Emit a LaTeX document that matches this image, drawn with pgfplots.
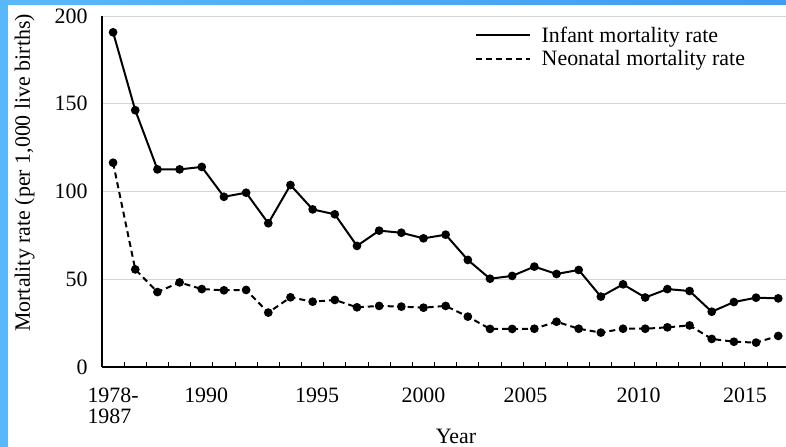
\documentclass[border=0pt]{standalone}
\usepackage{fontspec}
\setmainfont{Liberation Serif}
\usepackage{pgfplots}
\pgfplotsset{compat=1.18}
\definecolor{bluel}{HTML}{5AB8FA}
\definecolor{blued}{HTML}{3F9CF0}
\definecolor{gridc}{HTML}{D4D4D4}
\begin{document}
\begin{tikzpicture}
\fill[white] (0,0) rectangle (786bp,447bp);
\fill[bluel] (0,0) rectangle (8bp,447bp);
\shade[left color=bluel, right color=blued] (0,442bp) rectangle (786bp,447bp);
\begin{axis}[
  at={(102bp,80bp)}, anchor=south west,
  scale only axis, width=684bp, height=351bp,
  xmin=-0.5, xmax=30.35, ymin=0, ymax=200,
  font=\fontsize{22}{21}\selectfont,
  /pgf/number format/assume math mode=true,
  axis lines*=left,
  axis line style={black, line width=1.3bp},
  ytick={0,50,100,150,200},
  ymajorgrids, major grid style={gridc, line width=0.9bp},
  ytick style={draw=none},
  yticklabel style={xshift=-11bp},
  xtick={0.5,1.5,...,29.5},
  xticklabels={},
  xtick style={black, line width=1bp},
  tick align=inside,
  major tick length=5bp,
  extra x ticks={0,4.2,9.2,14,18.6,23.7,28.5},
  extra x tick labels={{1978-\\1987},1990,1995,2000,2005,2010,2015},
  extra x tick style={major tick length=0pt, grid=none,
     tick label style={align=left, yshift=-17bp, font=\fontsize{22}{21}\selectfont}},
  xlabel={Year},
  xlabel style={at={(axis description cs:0.5175,-0.198)}, anchor=center, inner sep=0pt},
  ylabel={Mortality rate (per 1,000 live births)},
  ylabel style={at={(axis description cs:-0.113,0.553)}, anchor=center},
  legend style={draw=none, fill=none, at={(axis description cs:0.549,0.981)}, anchor=north west,
     row sep=3bp, font=\fontsize{22}{22}\selectfont},
  legend cell align=left,
  legend image code/.code={\draw[#1, mark=none, overlay] (-6bp,0bp) -- (48bp,0bp); \path (0bp,0bp) (57bp,0bp);},
  clip=false,
]
\addplot[black, line width=2bp, mark=*, mark size=3.3bp] coordinates {
(0,190.7) (1,146.3) (2,112.6) (3,112.6) (4,114) (5,97) (6,99.3) (7,81.9) (8,103.7) (9,89.8)
(10,87) (11,69) (12,77.7) (13,76.5) (14,73.3) (15,75.4) (16,61) (17,50.3) (18,51.9) (19,57.2)
(20,53) (21,55.3) (22,40.1) (23,47.1) (24,39.6) (25,44.4) (26,43.3) (27,31.5) (28,37) (29,39.5) (30,39.1)
};
\addlegendentry{Infant mortality rate}
\addplot[black, line width=2bp, dash pattern=on 6bp off 4bp, mark=*, mark size=3.3bp, mark options={solid}] coordinates {
(0,116.4) (1,55.6) (2,42.7) (3,48.2) (4,44.4) (5,43.7) (6,43.9) (7,31) (8,39.7) (9,37.2)
(10,38.2) (11,34) (12,34.8) (13,34.4) (14,33.8) (15,34.8) (16,28.7) (17,21.7) (18,21.7) (19,21.8)
(20,25.8) (21,21.8) (22,19.6) (23,21.8) (24,21.8) (25,22.6) (26,23.7) (27,16) (28,14.4) (29,13.9) (30,17.7)
};
\addlegendentry{Neonatal mortality rate}
\end{axis}
\pgfresetboundingbox
\path[use as bounding box] (0,0) rectangle (786bp,447bp);
\end{tikzpicture}
\end{document}
